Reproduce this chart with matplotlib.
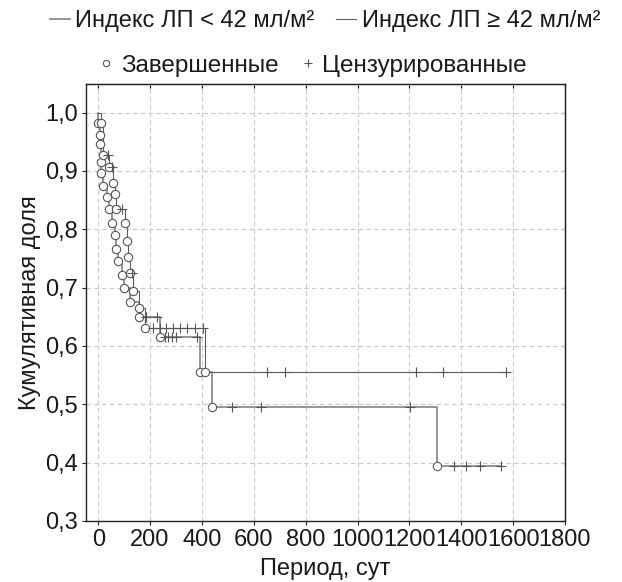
import numpy as np
import matplotlib
matplotlib.use("Agg")
import matplotlib.pyplot as plt
from matplotlib.lines import Line2D

plt.rcParams['font.family'] = ['Liberation Sans', 'DejaVu Sans']

# Group "< 42" (ends ~0.395)
event_t_lo = [0, 7, 8, 9, 10, 19, 33, 43, 54, 65, 67, 78, 91, 100, 123, 156, 237, 392, 437, 1308]
surv_lo = [0.982, 0.962, 0.946, 0.916, 0.896, 0.875, 0.855, 0.835, 0.811, 0.791, 0.766, 0.745,
           0.722, 0.700, 0.675, 0.650, 0.615, 0.556, 0.495, 0.395]
cens_t_lo = [186, 227, 258, 270, 283, 300, 380, 516, 626, 1204, 1372, 1417, 1474, 1555]

# Group ">= 42" (ends ~0.555)
event_t_hi = [10, 19, 40, 58, 65, 67, 102, 112, 115, 122, 136, 158, 179, 411]
surv_hi = [0.982, 0.928, 0.907, 0.880, 0.860, 0.835, 0.811, 0.780, 0.752, 0.725, 0.695,
           0.665, 0.630, 0.556]
cens_t_hi = [36, 52, 91, 132, 212, 238, 260, 288, 315, 342, 373, 405, 651, 719, 1224, 1329, 1574]

x_ticks = [0, 200, 400, 600, 800, 1000, 1200, 1400, 1600, 1800]
y_ticks = [0.3, 0.4, 0.5, 0.6, 0.7, 0.8, 0.9, 1.0]
y_labels = ['0,3', '0,4', '0,5', '0,6', '0,7', '0,8', '0,9', '1,0']

label_lo = 'Индекс ЛП < 42 мл/м²'
label_hi = 'Индекс ЛП ≥ 42 мл/м²'

W, H = 622, 582
fig = plt.figure(figsize=(W/100, H/100), dpi=100)
L, R, T, B = 86, 565, 84, 521
ax = fig.add_axes([L/W, 1-B/H, (R-L)/W, (B-T)/H])

def surv_at(t, ev_t, ev_s):
    s = 1.0
    for et, es in zip(ev_t, ev_s):
        if et <= t:
            s = es
    return s

style_lo = dict(color='#8c8c8c', lw=1.3)
style_hi = dict(color='#5e5e5e', lw=0.8)

for ev_t, ev_s, cens, st in [(event_t_lo, surv_lo, cens_t_lo, style_lo),
                              (event_t_hi, surv_hi, cens_t_hi, style_hi)]:
    end = max(max(cens), max(ev_t))
    xs = [0] + list(ev_t) + [end]
    ys = [1.0] + list(ev_s) + [ev_s[-1]]
    ax.step(xs, ys, where='post', zorder=3, **st)
    ax.plot(ev_t, ev_s, 'o', ms=6, mfc='white', mec='#555555', mew=0.8, zorder=4, ls='none')
    cy = [surv_at(c, ev_t, ev_s) for c in cens]
    ax.plot(cens, cy, '+', ms=7, color='#555555', mew=0.8, zorder=4, ls='none')

ax.set_xlim(-47, 1800)
ax.set_ylim(0.3, 1.049)
ax.set_xticks(x_ticks)
ax.set_yticks(y_ticks)
ax.set_yticklabels(y_labels)
ax.grid(True, color='#c8c8c8', ls=(0, (4, 3)), lw=0.8)
ax.set_axisbelow(True)
ax.tick_params(axis='both', labelsize=17, length=3, width=0.8, direction='out', pad=3,
               colors='#222222', labelcolor='#1a1a1a')
for sp in ax.spines.values():
    sp.set_linewidth(1.0)
    sp.set_color('#222222')

secx = ax.secondary_xaxis('top')
secx.set_xticks(x_ticks)
secx.tick_params(direction='in', length=3, width=0.8, labeltop=False)
secy = ax.secondary_yaxis('right')
secy.set_yticks(y_ticks)
secy.tick_params(direction='in', length=3, width=0.8, labelright=False)

ax.set_xlabel('Период, сут', fontsize=17, labelpad=5, color='#1a1a1a')
ax.set_ylabel('Кумулятивная доля', fontsize=17, labelpad=3, color='#1a1a1a')

h1 = [Line2D([], [], **style_lo), Line2D([], [], **style_hi)]
fig.legend(h1, [label_lo, label_hi], loc='center', bbox_to_anchor=(325/W, 1-21/H),
           ncol=2, frameon=False, fontsize=17, handlelength=0.85, handletextpad=0.25,
           columnspacing=0.9, labelcolor='#1a1a1a')
h2 = [Line2D([], [], marker='o', ls='none', ms=4.5, mfc='white', mec='#555555', mew=0.8),
      Line2D([], [], marker='+', ls='none', ms=6, color='#555555', mew=0.8)]
fig.legend(h2, ['Завершенные', 'Цензурированные'], loc='center',
           bbox_to_anchor=(313/W, 1-66/H), ncol=2, frameon=False, fontsize=17.5,
           handlelength=0.6, handletextpad=0.3, columnspacing=0.9, labelcolor='#1a1a1a')

fig.savefig('out.png', dpi=100)
